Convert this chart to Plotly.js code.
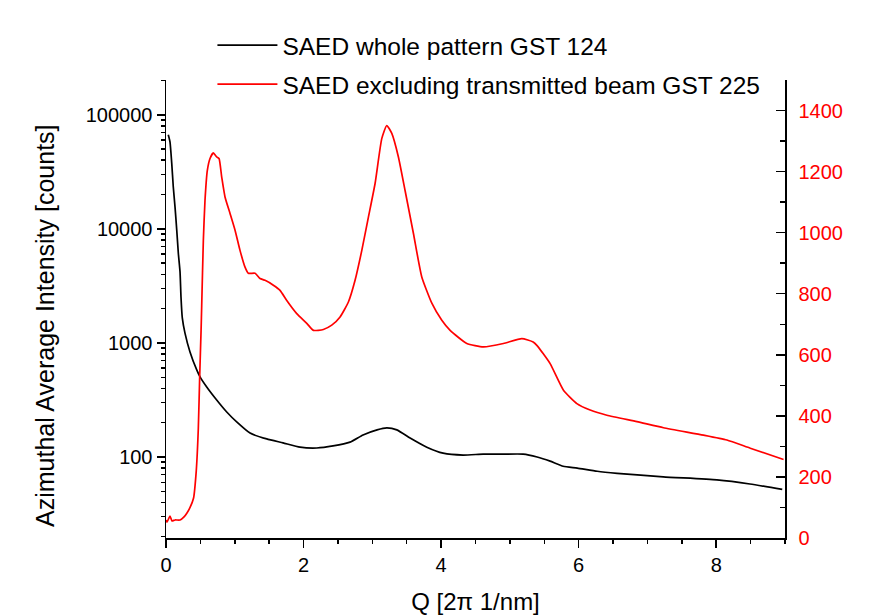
<!DOCTYPE html>
<html>
<head>
<meta charset="utf-8">
<script src="https://cdn.plot.ly/plotly-3.0.1.min.js"></script>
<style>html,body{margin:0;padding:0;background:#fff;}#chart{width:896px;height:615px;}</style>
</head>
<body>
<div id="chart"></div>
<script>
// Series 1: SAED whole pattern GST 124 (left, log axis)
const qBlack = [0.033,0.058,0.083,0.106,0.131,0.156,0.179,0.204,0.218,0.237,0.276,0.349,0.447,0.495,0.592,0.737,0.883,1.028,1.222,1.465,1.702,1.949,2.192,2.429,2.676,2.865,3.069,3.210,3.356,3.549,3.792,4.029,4.320,4.611,4.902,5.193,5.396,5.585,5.775,5.98,6.27,6.56,7.23,8.01,8.49,8.96];
const iBlack = [66800,57900,37900,23300,15600,9800,6150,4200,2530,1660,1220,834,580,504,411,316,248,203,162,144,133,122,120,125,135,156,173,180,173,147,122,108,104,106,106,106,100,92,83,80,75,72,67,63,58,52];

// Series 2: SAED excluding transmitted beam GST 225 (right, linear axis)
const qRed = [0.00,0.015,0.058,0.087,0.131,0.204,0.262,0.305,0.35,0.40,0.44,0.47,0.49,0.51,0.519,0.543,0.567,0.601,0.640,0.688,0.737,0.771,0.810,0.858,0.931,1.004,1.076,1.149,1.197,1.295,1.367,1.440,1.561,1.658,1.756,1.901,2.047,2.143,2.288,2.410,2.531,2.652,2.749,2.847,2.943,3.040,3.137,3.210,3.283,3.379,3.476,3.597,3.719,3.865,4.010,4.131,4.374,4.615,4.906,5.174,5.338,5.392,5.585,5.779,5.974,6.167,6.410,6.847,7.233,7.815,8.155,8.495,8.979];
const iRed = [59,52,72,56,59,59,69,82,100,130,220,360,530,680,760,975,1106,1204,1243,1261,1248,1243,1182,1117,1063,1008,942,887,867,867,850,844,828,811,778,735,703,680,683,697,724,773,844,942,1051,1161,1308,1351,1325,1248,1138,998,855,769,713,680,637,626,637,653,642,631,571,484,440,419,402,381,361,337,321,294,257];

const seriesNames = ["SAED whole pattern GST 124", "SAED excluding transmitted beam GST 225"];
const leftTickVals = [100, 1000, 10000, 100000];
const leftTickText = ["100", "1000", "10000", "100000"];
const xTitle = "Q [2\u03c0 1/nm]";
const yTitle = "Azimuthal Average Intensity [counts]";

const FONT = "Liberation Sans, Arial, sans-serif";

const traces = [
  {x: qBlack, y: iBlack, name: seriesNames[0], type: "scatter", mode: "lines",
   line: {color: "#000000", width: 1.7, shape: "spline", smoothing: 0.5}, yaxis: "y", legendgroup: "a"},
  {x: qRed, y: iRed, name: seriesNames[1], type: "scatter", mode: "lines",
   line: {color: "#ff0000", width: 1.7, shape: "spline", smoothing: 0.5}, yaxis: "y2", legendgroup: "b"}
];

const layout = {
  width: 896, height: 615,
  margin: {l: 166, r: 111, t: 80, b: 77},
  paper_bgcolor: "#ffffff", plot_bgcolor: "#ffffff",
  font: {family: FONT, color: "#000000", size: 20},
  showlegend: true,
  legend: {x: 0.075, y: 1.125, xanchor: "left", yanchor: "top",
           font: {family: FONT, size: 24.5, color: "#000"}, bgcolor: "rgba(0,0,0,0)",
           itemwidth: 60, tracegroupgap: 4, traceorder: "grouped"},
  xaxis: {
    range: [0, 9], dtick: 2, tick0: 0, showgrid: false, zeroline: false,
    showline: true, linecolor: "#000", linewidth: 1.5, mirror: false,
    ticks: "outside", ticklen: 8, tickwidth: 1.5, tickcolor: "#000",
    minor: {dtick: 0.5, tick0: 0, ticks: "outside", ticklen: 4, tickwidth: 1.5, tickcolor: "#000", showgrid: false},
    tickfont: {size: 20, color: "#000"},
    title: {text: xTitle, font: {size: 24, color: "#000"}, standoff: 18}
  },
  yaxis: {
    type: "log", range: [1.29, 5.305], showgrid: false, zeroline: false,
    showline: true, linecolor: "#000", linewidth: 1.5,
    tickvals: leftTickVals, ticktext: leftTickText,
    ticks: "outside", ticklen: 8, tickwidth: 1.5, tickcolor: "#000",
    minor: {dtick: "D1", ticks: "outside", ticklen: 4, tickwidth: 1.5, tickcolor: "#000", showgrid: false},
    tickfont: {size: 20, color: "#000"}
  },
  yaxis2: {
    overlaying: "y", side: "right", range: [0, 1500], dtick: 200, tick0: 0,
    showgrid: false, zeroline: false, showline: true, linecolor: "#000", linewidth: 1.5,
    ticks: "inside", ticklen: 9, tickwidth: 1.5, tickcolor: "#000",
    minor: {dtick: 100, tick0: 0, ticks: "inside", ticklen: 5, tickwidth: 1.5, tickcolor: "#000", showgrid: false},
    tickfont: {size: 20, color: "#ff0000"}, ticklabelstandoff: 8
  },
  annotations: [{
    text: yTitle, xref: "paper", yref: "paper", x: -0.1955, y: 0.465,
    xanchor: "center", yanchor: "middle", textangle: -90, showarrow: false,
    font: {family: FONT, size: 25, color: "#000"}
  }]
};

Plotly.newPlot("chart", traces, layout, {displayModeBar: false, staticPlot: true});
</script>
</body>
</html>
